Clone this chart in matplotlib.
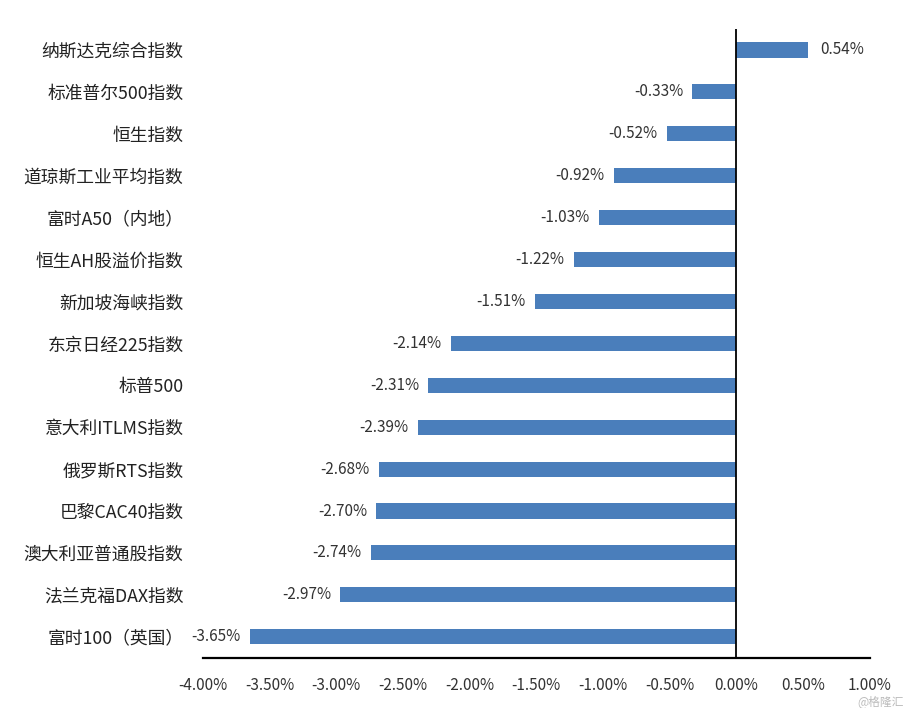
import matplotlib
matplotlib.use("Agg")
from matplotlib import pyplot as plt
from matplotlib.ticker import FuncFormatter

plt.rcParams["font.family"] = ["Noto Sans CJK SC", "DejaVu Sans"]

# index names, top to bottom
names = [
    "纳斯达克综合指数",
    "标准普尔500指数",
    "恒生指数",
    "道琼斯工业平均指数",
    "富时A50（内地）",
    "恒生AH股溢价指数",
    "新加坡海峡指数",
    "东京日经225指数",
    "标普500",
    "意大利ITLMS指数",
    "俄罗斯RTS指数",
    "巴黎CAC40指数",
    "澳大利亚普通股指数",
    "法兰克福DAX指数",
    "富时100（英国）",
]
changes = [0.54, -0.33, -0.52, -0.92, -1.03, -1.22, -1.51, -2.14,
           -2.31, -2.39, -2.68, -2.70, -2.74, -2.97, -3.65]
x_ticks = [-4.0, -3.5, -3.0, -2.5, -2.0, -1.5, -1.0, -0.5, 0.0, 0.5, 1.0]

bar_color = "#4a7ebb"

fig = plt.figure(figsize=(9.06, 7.08), dpi=100)
ax = fig.add_axes([0.224, 0.071, 0.736, 0.888])

pos = list(range(len(names)))
ax.barh(pos, changes, height=0.36, color=bar_color)

# value labels next to bar ends
for y, v in zip(pos, changes):
    if v >= 0:
        ax.text(v + 0.09, y, f"{v:.2f}%", va="center", ha="left",
                fontsize=11, color="#333333")
    else:
        ax.text(v - 0.07, y, f"{v:.2f}%", va="center", ha="right",
                fontsize=11, color="#333333")

ax.axvline(0, color="black", linewidth=1.3)

ax.set_xlim(-4.0, 1.0)
ax.set_ylim(len(names) - 0.5, -0.5)
ax.set_xticks(x_ticks)
ax.xaxis.set_major_formatter(FuncFormatter(lambda v, p: f"{v:.2f}%"))
ax.set_yticks(pos)
ax.set_yticklabels(names)

ax.tick_params(axis="x", length=0, pad=14, labelsize=11, colors="#333333")
ax.tick_params(axis="y", length=0, pad=14, labelsize=12.8, colors="#222222")

for side in ["top", "right", "left"]:
    ax.spines[side].set_visible(False)
ax.spines["bottom"].set_linewidth(1.6)
ax.spines["bottom"].set_color("black")

fig.text(0.997, 0.0, "@格隆汇", ha="right", va="bottom",
         fontsize=8.5, color="#bbbbbb")

fig.savefig("out.png", dpi=100)
